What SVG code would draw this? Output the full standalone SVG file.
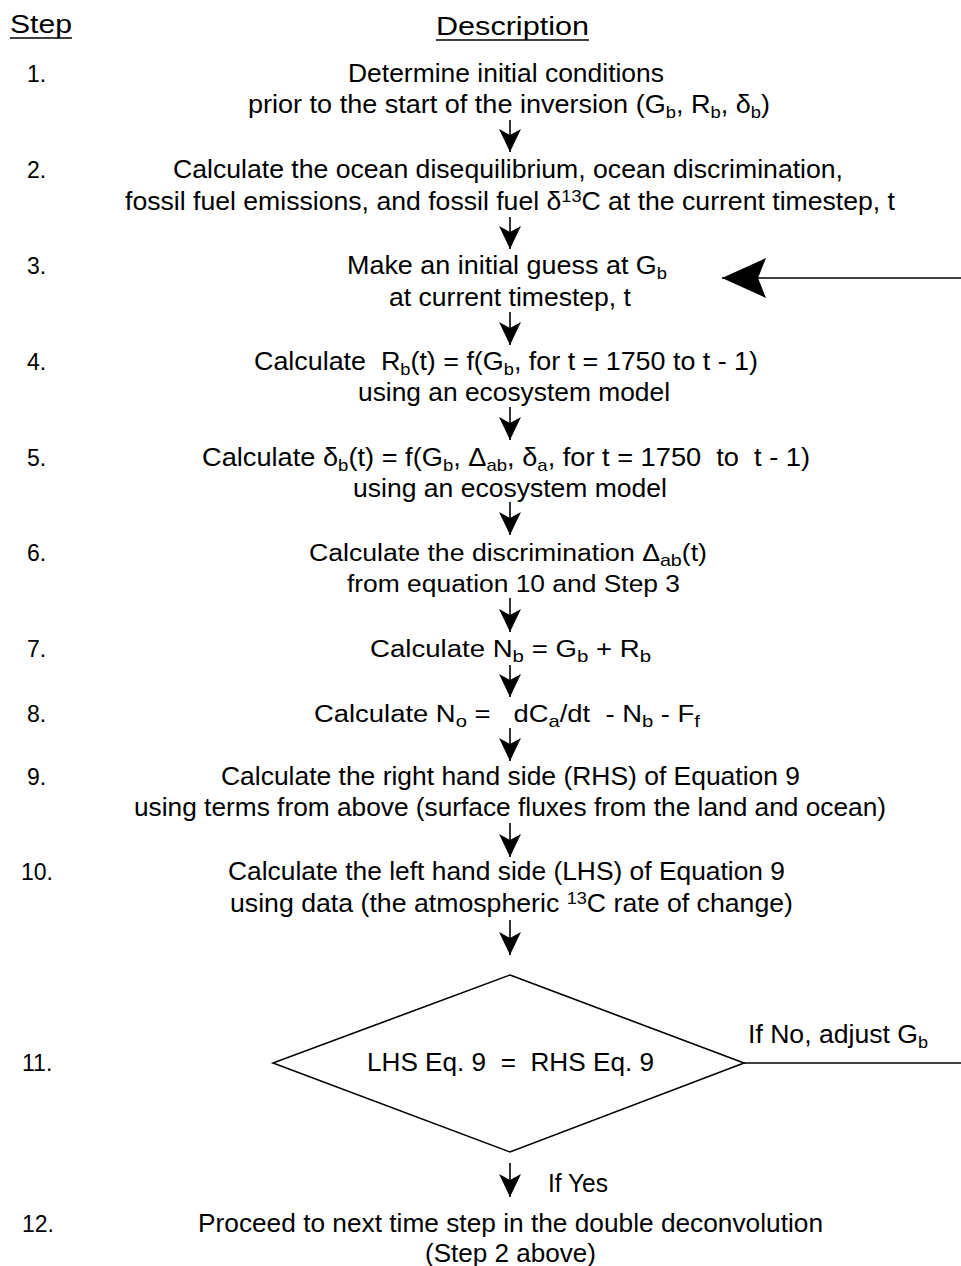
<svg xmlns="http://www.w3.org/2000/svg" width="961" height="1266" viewBox="0 0 961 1266">
<style>
text{font-family:"Liberation Sans",Arial,sans-serif;font-size:25px;fill:#000;white-space:pre}
.n{font-size:23px}
.w{font-size:23px}
.s{font-size:17px}
.ln{stroke:#000;stroke-width:1.6;fill:none}
</style>
<defs>
<marker id="ah" markerUnits="userSpaceOnUse" viewBox="-24 -13 26 26" markerWidth="26" markerHeight="26" refX="0" refY="0" orient="auto">
<path d="M0,0 L-23,-11 L-17,0 L-23,11 Z" fill="#000"/>
</marker>
<marker id="ahb" markerUnits="userSpaceOnUse" viewBox="-46 -22 48 44" markerWidth="48" markerHeight="44" refX="0" refY="0" orient="auto">
<path d="M0,0 L-44,-20 L-36,0 L-44,20 Z" fill="#000"/>
</marker>
</defs>
<rect width="961" height="1266" fill="#fff"/>
<g id="headers">
<text x="10" y="33" textLength="62" lengthAdjust="spacingAndGlyphs">Step</text>
<line class="ln" x1="10" y1="38" x2="72" y2="38"/>
<text x="436" y="35" textLength="153" lengthAdjust="spacingAndGlyphs">Description</text>
<line class="ln" x1="436" y1="40" x2="589" y2="40"/>
</g>
<g id="stepnums">
<text class="n" x="27" y="82">1.</text>
<text class="n" x="27" y="178">2.</text>
<text class="n" x="27" y="274">3.</text>
<text class="n" x="27" y="370">4.</text>
<text class="n" x="27" y="466">5.</text>
<text class="n" x="27" y="561">6.</text>
<text class="n" x="27" y="657">7.</text>
<text class="n" x="27" y="722">8.</text>
<text class="n" x="27" y="785">9.</text>
<text class="n" x="21" y="880">10.</text>
<text class="n" x="22" y="1071">11.</text>
<text class="n" x="22" y="1232">12.</text>
</g>
<g id="step1">
<text x="348" y="82" textLength="316" lengthAdjust="spacingAndGlyphs">Determine initial conditions</text>
<text x="248" y="113" textLength="522" lengthAdjust="spacingAndGlyphs">prior to the start of the inversion (G<tspan class="s" dy="5">b</tspan><tspan dy="-5">, R</tspan><tspan class="s" dy="5">b</tspan><tspan dy="-5">, δ</tspan><tspan class="s" dy="5">b</tspan><tspan dy="-5">)</tspan></text>
</g>
<g id="step2">
<text x="173" y="178" textLength="670" lengthAdjust="spacingAndGlyphs">Calculate the ocean disequilibrium, ocean discrimination,</text>
<text x="125" y="210" textLength="770" lengthAdjust="spacingAndGlyphs">fossil fuel emissions, and fossil fuel δ<tspan class="s" dy="-8">13</tspan><tspan dy="8">C at the current timestep, t</tspan></text>
</g>
<g id="step3">
<text x="347" y="274" textLength="320" lengthAdjust="spacingAndGlyphs">Make an initial guess at G<tspan class="s" dy="5">b</tspan></text>
<text x="389" y="306" textLength="242" lengthAdjust="spacingAndGlyphs">at current timestep, t</text>
</g>
<g id="step4">
<text x="254" y="370" textLength="504" lengthAdjust="spacingAndGlyphs">Calculate  R<tspan class="s" dy="5">b</tspan><tspan dy="-5">(t) = f(G</tspan><tspan class="s" dy="5">b</tspan><tspan dy="-5">, for t = 1750 to t - 1)</tspan></text>
<text x="358" y="401" textLength="312" lengthAdjust="spacingAndGlyphs">using an ecosystem model</text>
</g>
<g id="step5">
<text x="202" y="466" textLength="608" lengthAdjust="spacingAndGlyphs">Calculate δ<tspan class="s" dy="5">b</tspan><tspan dy="-5">(t) = f(G</tspan><tspan class="s" dy="5">b</tspan><tspan dy="-5">, Δ</tspan><tspan class="s" dy="5">ab</tspan><tspan dy="-5">, δ</tspan><tspan class="s" dy="5">a</tspan><tspan dy="-5">, for t = 1750  to  t - 1)</tspan></text>
<text x="353" y="497" textLength="314" lengthAdjust="spacingAndGlyphs">using an ecosystem model</text>
</g>
<g id="step6">
<text class="w" x="309" y="561" textLength="398" lengthAdjust="spacingAndGlyphs">Calculate the discrimination Δ<tspan class="s" dy="5">ab</tspan><tspan dy="-5">(t)</tspan></text>
<text class="w" x="347" y="592" textLength="333" lengthAdjust="spacingAndGlyphs">from equation 10 and Step 3</text>
</g>
<g id="step7">
<text class="w" x="370" y="657" textLength="281" lengthAdjust="spacingAndGlyphs">Calculate N<tspan class="s" dy="5">b</tspan><tspan dy="-5"> = G</tspan><tspan class="s" dy="5">b</tspan><tspan dy="-5"> + R</tspan><tspan class="s" dy="5">b</tspan></text>
</g>
<g id="step8">
<text class="w" x="314" y="722" textLength="386" lengthAdjust="spacingAndGlyphs">Calculate N<tspan class="s" dy="5">o</tspan><tspan dy="-5"> =   dC</tspan><tspan class="s" dy="5">a</tspan><tspan dy="-5">/dt  - N</tspan><tspan class="s" dy="5">b</tspan><tspan dy="-5"> - F</tspan><tspan class="s" dy="5">f</tspan></text>
</g>
<g id="step9">
<text x="221" y="785" textLength="579" lengthAdjust="spacingAndGlyphs">Calculate the right hand side (RHS) of Equation 9</text>
<text x="134" y="816" textLength="752" lengthAdjust="spacingAndGlyphs">using terms from above (surface fluxes from the land and ocean)</text>
</g>
<g id="step10">
<text x="228" y="880" textLength="557" lengthAdjust="spacingAndGlyphs">Calculate the left hand side (LHS) of Equation 9</text>
<text x="230" y="912" textLength="563" lengthAdjust="spacingAndGlyphs">using data (the atmospheric <tspan class="s" dy="-8">13</tspan><tspan dy="8">C rate of change)</tspan></text>
</g>
<g id="step11">
<polygon class="ln" points="510,975 744,1063 510,1152 273,1063"/>
<text x="367" y="1071" textLength="287" lengthAdjust="spacingAndGlyphs">LHS Eq. 9  =  RHS Eq. 9</text>
</g>
<g id="step12">
<text x="198" y="1232" textLength="625" lengthAdjust="spacingAndGlyphs">Proceed to next time step in the double deconvolution</text>
<text x="425" y="1262" textLength="171" lengthAdjust="spacingAndGlyphs">(Step 2 above)</text>
</g>
<g id="connectors">
<line class="ln" x1="510" y1="120" x2="510" y2="152" marker-end="url(#ah)"/>
<line class="ln" x1="510" y1="217" x2="510" y2="249" marker-end="url(#ah)"/>
<line class="ln" x1="510" y1="312" x2="510" y2="345" marker-end="url(#ah)"/>
<line class="ln" x1="510" y1="407" x2="510" y2="440" marker-end="url(#ah)"/>
<line class="ln" x1="510" y1="502" x2="510" y2="535" marker-end="url(#ah)"/>
<line class="ln" x1="510" y1="598" x2="510" y2="632" marker-end="url(#ah)"/>
<line class="ln" x1="510" y1="665" x2="510" y2="697" marker-end="url(#ah)"/>
<line class="ln" x1="510" y1="728" x2="510" y2="761" marker-end="url(#ah)"/>
<line class="ln" x1="510" y1="823" x2="510" y2="857" marker-end="url(#ah)"/>
<line class="ln" x1="510" y1="920" x2="510" y2="955" marker-end="url(#ah)"/>
<line class="ln" x1="510" y1="1163" x2="510" y2="1197" marker-end="url(#ah)"/>
<line class="ln" x1="744" y1="1063" x2="961" y2="1063"/>
<line class="ln" x1="961" y1="278" x2="722" y2="278" marker-end="url(#ahb)"/>
<text x="748" y="1043" textLength="180" lengthAdjust="spacingAndGlyphs">If No, adjust G<tspan class="s" dy="5">b</tspan></text>
<text x="548" y="1192" textLength="60" lengthAdjust="spacingAndGlyphs">If Yes</text>
</g>
</svg>
